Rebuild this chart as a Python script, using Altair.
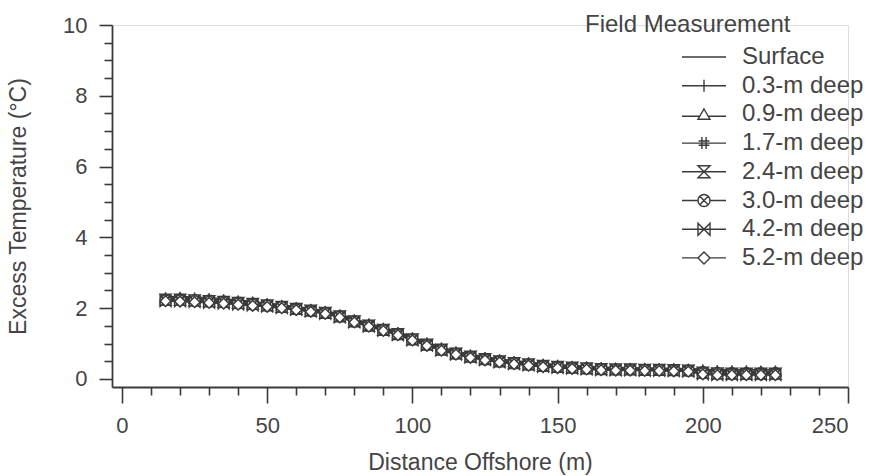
import altair as alt
import pandas as pd

distance = [15, 20, 25, 30, 35, 40, 45, 50, 55, 60, 65, 70, 75, 80, 85, 90, 95, 100,
            105, 110, 115, 120, 125, 130, 135, 140, 145, 150, 155, 160, 165, 170,
            175, 180, 185, 190, 195, 200, 205, 210, 215, 220, 225]

surface = [2.33, 2.33, 2.32, 2.30, 2.27, 2.23, 2.19, 2.15, 2.10, 2.04, 1.99, 1.93, 1.84, 1.70, 1.58,
           1.46, 1.34, 1.19, 1.04, 0.90, 0.79, 0.70, 0.63, 0.57, 0.52, 0.48, 0.44, 0.41, 0.38, 0.36,
           0.34, 0.33, 0.32, 0.31, 0.31, 0.30, 0.30, 0.28, 0.27, 0.27, 0.27, 0.27, 0.27]
deep_03 = [2.30, 2.31, 2.29, 2.27, 2.24, 2.21, 2.18, 2.13, 2.08, 2.02, 1.97, 1.91, 1.81, 1.68, 1.56,
           1.44, 1.32, 1.17, 1.02, 0.88, 0.77, 0.68, 0.61, 0.55, 0.50, 0.46, 0.42, 0.39, 0.36, 0.34,
           0.32, 0.31, 0.30, 0.30, 0.29, 0.29, 0.28, 0.26, 0.24, 0.23, 0.23, 0.22, 0.22]
deep_09 = [2.27, 2.28, 2.26, 2.25, 2.22, 2.19, 2.16, 2.12, 2.07, 2.01, 1.96, 1.90, 1.80, 1.66, 1.54,
           1.42, 1.30, 1.15, 1.00, 0.86, 0.75, 0.66, 0.59, 0.53, 0.48, 0.44, 0.40, 0.37, 0.35, 0.33,
           0.31, 0.30, 0.29, 0.29, 0.28, 0.28, 0.27, 0.24, 0.22, 0.21, 0.21, 0.21, 0.21]
deep_17 = [2.25, 2.26, 2.24, 2.23, 2.20, 2.17, 2.14, 2.10, 2.05, 2.00, 1.94, 1.88, 1.78, 1.64, 1.52,
           1.40, 1.28, 1.13, 0.98, 0.84, 0.73, 0.64, 0.57, 0.51, 0.46, 0.42, 0.38, 0.35, 0.33, 0.31,
           0.29, 0.28, 0.28, 0.27, 0.27, 0.26, 0.25, 0.21, 0.19, 0.18, 0.18, 0.18, 0.18]
deep_24 = [2.24, 2.24, 2.22, 2.20, 2.18, 2.15, 2.12, 2.08, 2.04, 1.98, 1.93, 1.87, 1.77, 1.63, 1.51,
           1.39, 1.27, 1.12, 0.97, 0.83, 0.72, 0.63, 0.56, 0.50, 0.45, 0.41, 0.37, 0.34, 0.32, 0.30,
           0.28, 0.27, 0.27, 0.26, 0.26, 0.25, 0.24, 0.18, 0.16, 0.15, 0.15, 0.15, 0.15]
deep_30 = [2.22, 2.22, 2.20, 2.18, 2.16, 2.13, 2.10, 2.07, 2.03, 1.97, 1.92, 1.86, 1.76, 1.62, 1.50,
           1.38, 1.26, 1.11, 0.96, 0.82, 0.71, 0.62, 0.55, 0.49, 0.44, 0.40, 0.36, 0.33, 0.31, 0.29,
           0.27, 0.26, 0.26, 0.25, 0.25, 0.24, 0.23, 0.16, 0.14, 0.13, 0.13, 0.13, 0.13]
deep_42 = [2.20, 2.20, 2.18, 2.16, 2.14, 2.11, 2.08, 2.05, 2.01, 1.96, 1.91, 1.85, 1.75, 1.61, 1.49,
           1.37, 1.25, 1.10, 0.95, 0.81, 0.70, 0.61, 0.54, 0.48, 0.43, 0.39, 0.35, 0.32, 0.30, 0.28,
           0.26, 0.25, 0.25, 0.24, 0.24, 0.23, 0.22, 0.14, 0.12, 0.12, 0.12, 0.12, 0.12]
deep_52 = [2.20, 2.19, 2.17, 2.15, 2.13, 2.10, 2.07, 2.04, 2.00, 1.95, 1.90, 1.84, 1.74, 1.60, 1.48,
           1.36, 1.24, 1.09, 0.94, 0.80, 0.69, 0.60, 0.53, 0.47, 0.42, 0.38, 0.34, 0.31, 0.29, 0.27,
           0.25, 0.24, 0.24, 0.23, 0.23, 0.22, 0.21, 0.13, 0.11, 0.11, 0.11, 0.11, 0.11]

series_names = ["Surface", "0.3-m deep", "0.9-m deep", "1.7-m deep",
                "2.4-m deep", "3.0-m deep", "4.2-m deep", "5.2-m deep"]
series_values = [surface, deep_03, deep_09, deep_17, deep_24, deep_30, deep_42, deep_52]

x_major = [0, 50, 100, 150, 200, 250]
x_minor = [v for v in range(10, 250, 10) if v % 50 != 0]
y_major = [0, 2, 4, 6, 8, 10]
y_minor = [v / 2 for v in range(1, 20) if v % 4 != 0]

# marker glyphs (unit space), data versions and legend versions with line tails
T = "3.67"
data_paths = [
    "M-1,0H1",
    "M-1,0H1M0,-1V1",
    "M0,-0.9L1,0.8L-1,0.8Z",
    "M-0.35,-1V1M0.35,-1V1M-0.9,-0.35H0.9M-0.9,0.35H0.9",
    "M-1,-1L1,-1L-1,1L1,1Z",
    "M-1,0A1,1 0 1,1 1,0A1,1 0 1,1 -1,0ZM-0.7,-0.7L0.7,0.7M-0.7,0.7L0.7,-0.7",
    "M-1,-1L1,1L1,-1L-1,1Z",
    "M0,-1L1,0L0,1L-1,0Z",
]
legend_paths = [
    f"M-{T},0H{T}",
    f"M-{T},0H{T}M0,-1V1",
    f"M-{T},0.3H-0.7M0.7,0.3H{T}M0,-0.9L1,0.8L-1,0.8Z",
    f"M-{T},0H{T}M-0.35,-1V1M0.35,-1V1M-0.9,-0.35H0.9M-0.9,0.35H0.9",
    f"M-{T},0H{T}M-1,-1L1,-1L-1,1L1,1Z",
    f"M-{T},0H-1M1,0H{T}M-1,0A1,1 0 1,1 1,0A1,1 0 1,1 -1,0ZM-0.7,-0.7L0.7,0.7M-0.7,0.7L0.7,-0.7",
    f"M-{T},0H{T}M-1,-1L1,1L1,-1L-1,1Z",
    f"M-{T},0H-1M1,0H{T}M0,-1L1,0L0,1L-1,0Z",
]

rows = []
for order, (name, vals) in enumerate(zip(series_names, series_values)):
    for d, v in zip(distance, vals):
        rows.append({"series": name, "order": order, "distance": d, "temp": v})
df = pd.DataFrame(rows)

FONT = "Liberation Sans"
INK = "#3a3a3a"
TXT = "#444444"

xscale = alt.Scale(domain=[-3.44, 250], nice=False, zero=False)
yscale = alt.Scale(domain=[-0.226, 10], nice=False, zero=False)

x_major_axis = alt.Axis(values=x_major, tickSize=16, tickWidth=1.6, tickColor=INK,
                        domainColor=INK, domainWidth=1.8, labelFontSize=22, labelFont=FONT,
                        labelColor=TXT, labelPadding=12, grid=False, orient="bottom",
                        title="Distance Offshore (m)", titleFont=FONT, titleFontSize=23,
                        titleFontWeight="normal", titleColor=TXT, titlePadding=15)
y_major_axis = alt.Axis(values=y_major, tickSize=13, tickWidth=1.6, tickColor=INK,
                        domainColor=INK, domainWidth=1.8, labelFontSize=22, labelFont=FONT,
                        labelColor=TXT, labelPadding=12, grid=False, orient="left",
                        title="Excess Temperature (°C)", titleFont=FONT, titleFontSize=23,
                        titleFontWeight="normal", titleColor=TXT, titlePadding=32)
x_minor_axis = alt.Axis(values=x_minor, tickSize=8, tickWidth=1.6, tickColor=INK,
                        labels=False, domain=False, grid=False, orient="bottom", title=None)
y_minor_axis = alt.Axis(values=y_minor, tickSize=8, tickWidth=1.6, tickColor=INK,
                        labels=False, domain=False, grid=False, orient="left", title=None)

lines = alt.Chart(df).mark_line(color=INK, strokeWidth=1.4).encode(
    x=alt.X("distance:Q", scale=xscale, axis=x_major_axis),
    y=alt.Y("temp:Q", scale=yscale, axis=y_major_axis),
    detail="series:N",
)

points = alt.Chart(df).transform_filter(
    alt.datum.series != "Surface"
).mark_point(filled=True, fill="white", stroke=INK, strokeWidth=1.5, size=115, opacity=1).encode(
    x=alt.X("distance:Q", scale=xscale, axis=x_minor_axis),
    y=alt.Y("temp:Q", scale=yscale, axis=y_minor_axis),
    shape=alt.Shape("series:N", scale=alt.Scale(domain=series_names, range=data_paths), legend=None),
    order="order:Q",
)

legend_layer = alt.Chart(df).transform_filter("false").mark_point(
    filled=False, color=INK, strokeWidth=1.4, size=144, opacity=1
).encode(
    shape=alt.Shape(
        "series:N",
        scale=alt.Scale(domain=series_names, range=legend_paths),
        legend=alt.Legend(
            title="Field Measurement", orient="none", legendX=473, legendY=-12,
            titleFont=FONT, titleFontSize=24, titleFontWeight="normal", titleColor=TXT,
            titlePadding=8, titleLimit=400, labelFont=FONT, labelFontSize=24, labelColor=TXT,
            symbolOffset=107, labelOffset=26, rowPadding=4.7, symbolSize=144,
            symbolStrokeColor=INK, symbolStrokeWidth=1.4,
            symbolOpacity=1, labelLimit=300,
        ),
    )
)

chart = alt.layer(lines, points, legend_layer).resolve_scale(
    shape="independent"
).resolve_axis(
    x="independent", y="independent"
).properties(
    width=736, height=362,
    autosize=alt.AutoSizeParams(type="none"),
    padding={"left": 112, "top": 25, "right": 23, "bottom": 89},
).configure_view(stroke=None).configure(background="white")

chart.save("out.html", embed_options={"renderer": "svg", "actions": False})
